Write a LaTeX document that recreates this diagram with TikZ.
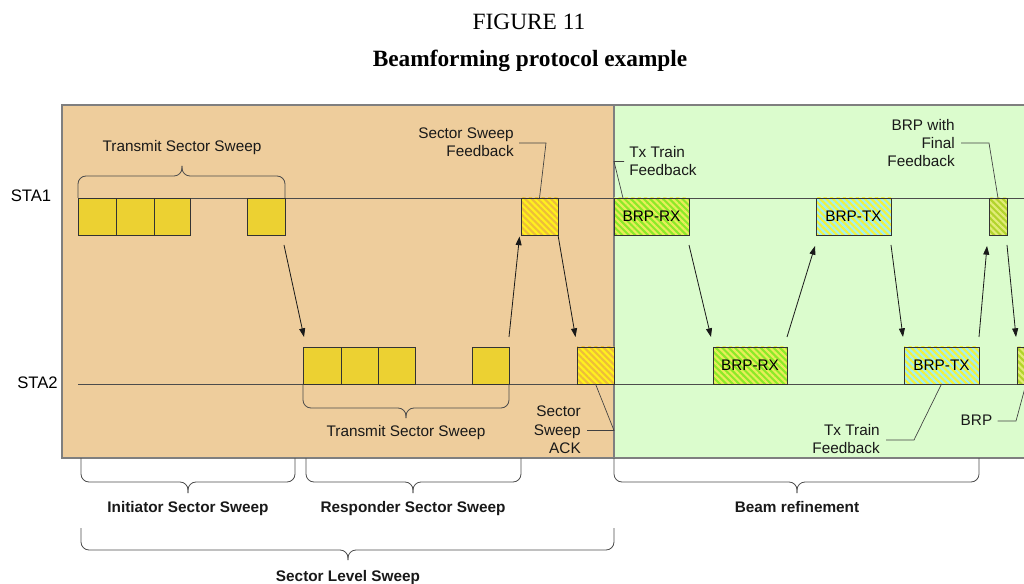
\documentclass[tikz,border=0pt]{standalone}
\usepackage{fontspec}
\setmainfont{Liberation Sans}
\newfontfamily\captionserif{Liberation Serif}
\usetikzlibrary{arrows.meta,patterns.meta,calc}

\definecolor{sweepzone}{HTML}{EECD9C}
\definecolor{refinezone}{HTML}{DBFCCD}
\definecolor{framegray}{HTML}{7F7F7F}
\definecolor{sweepyellow}{HTML}{ECD132}
\definecolor{fbbase}{HTML}{FFF01E}
\definecolor{fbstripe}{HTML}{EDBE3A}
\definecolor{rxbase}{HTML}{8CEA28}
\definecolor{rxstripe}{HTML}{E8EE5A}
\definecolor{txbase}{HTML}{A2F0F0}
\definecolor{txstripe}{HTML}{F4F23A}
\definecolor{finbase}{HTML}{B2D42C}
\definecolor{finstripe}{HTML}{E2EC78}

% a curly brace with rounded corners: x-left, x-right, x-tip, y-ends, y-bar, y-tip
\newcommand\grpbrace[6]{%
  \draw[bracestyle] (#1,#4) -- (#1,#5) -- (#3,#5) -- (#3,#6);
  \draw[bracestyle] (#2,#4) -- (#2,#5) -- (#3,#5) -- (#3,#6);
}

\begin{document}
\begin{tikzpicture}[x=0.75pt, y=-0.75pt,
  txt/.style={font=\fontsize{11.5}{13.8}\selectfont, inner sep=0pt, text=black!90},
  grptxt/.style={font=\fontsize{11.5}{13.8}\selectfont\bfseries, inner sep=0pt, text=black!90, anchor=base},
  slot/.style={draw=black!80, line width=0.6pt, inner sep=0pt, outer sep=0pt,
    minimum height=27.75pt, font=\fontsize{11.5}{13.8}\selectfont},
  wd/.style={minimum width=#1*0.75pt},
  sweepbox/.style={slot, fill=sweepyellow},
  hatchbox/.style 2 args={slot, preaction={fill=#1},
    preaction={pattern={Lines[angle=-45,distance=3.4pt,line width=1.6pt]}, pattern color=#2}},
  conn/.style={draw=black!90, line width=0.6pt, -{Triangle[length=6.5pt,width=4.5pt]}},
  leader/.style={draw=black!75, line width=0.5pt},
  staline/.style={draw=black!70, line width=0.6pt},
  bracestyle/.style={draw=black!70, line width=0.6pt, rounded corners=6pt},
]
\path[use as bounding box, clip] (0,0) rectangle (1024,584);

% caption
\node[font=\captionserif\fontsize{17.5}{20}\selectfont] (fig) at (529,22) {FIGURE 11};
\node[font=\captionserif\fontsize{17.5}{20}\selectfont\bfseries] (ttl) at (530,61) {Beamforming protocol example};

% phase backgrounds
\path[fill=sweepzone] (62,105) rectangle (614,458);
\path[fill=refinezone] (614,105) rectangle (1030,458);
\draw[framegray, line width=0.9pt] (1030,105) -- (62,105) -- (62,458) -- (1030,458);
\draw[framegray, line width=0.9pt] (614,105) -- (614,458);

% station time lines
\node[font=\fontsize{12.5}{15}\selectfont, inner sep=0pt] (sta1) at (31,196) {STA1};
\node[font=\fontsize{12.5}{15}\selectfont, inner sep=0pt] (sta2) at (37.5,383) {STA2};
\coordinate (l1a) at (78,198);  \coordinate (l1b) at (1030,198);
\coordinate (l2a) at (78,384);  \coordinate (l2b) at (1030,384);
\draw[staline] (l1a) -- (l1b);
\draw[staline] (l2a) -- (l2b);

% STA1 frames
\node[sweepbox, wd=38] (a1) at (97,216.5) {};
\node[sweepbox, wd=38] (a2) at (135,216.5) {};
\node[sweepbox, wd=36] (a3) at (172,216.5) {};
\node[sweepbox, wd=38] (a4) at (266,216.5) {};
\node[hatchbox={fbbase}{fbstripe}, wd=37] (fb) at (539.5,216.5) {};
\node[hatchbox={rxbase}{rxstripe}, wd=75] (rx1) at (651.5,216.5) {BRP-RX};
\node[hatchbox={txbase}{txstripe}, wd=75] (tx1) at (853.5,216.5) {BRP-TX};
\node[hatchbox={finbase}{finstripe}, wd=18] (fin) at (998,216.5) {};

% STA2 frames
\node[sweepbox, wd=38] (b1) at (322,365.5) {};
\node[sweepbox, wd=37] (b2) at (359.5,365.5) {};
\node[sweepbox, wd=37] (b3) at (396.5,365.5) {};
\node[sweepbox, wd=37] (b4) at (490.5,365.5) {};
\node[hatchbox={fbbase}{fbstripe}, wd=37] (ack) at (595.5,365.5) {};
\node[hatchbox={rxbase}{rxstripe}, wd=74] (rx2) at (750,365.5) {BRP-RX};
\node[hatchbox={txbase}{txstripe}, wd=75] (tx2) at (941.5,365.5) {BRP-TX};
\node[hatchbox={finbase}{finstripe}, wd=18] (brp) at (1026,365.5) {};

% frame exchanges
\draw[conn] ($(a4.south east)+(-1,10)$) -- ($(b1.north west)+(1,-10)$);
\draw[conn] ($(b4.north east)+(0,-10)$) -- ($(fb.south west)+(-1.5,1.5)$);
\draw[conn] ($(fb.south east)+(0,0)$) -- ($(ack.north west)+(-1.5,-10)$);
\draw[conn] ($(rx1.south east)+(0,10)$) -- ($(rx2.north west)+(-2,-10)$);
\draw[conn] ($(rx2.north east)+(0,-10)$) -- ($(tx1.south west)+(-1,11)$);
\draw[conn] ($(tx1.south east)+(0,10)$) -- ($(tx2.north west)+(-1,-10)$);
\draw[conn] ($(tx2.north east)+(0,-10)$) -- ($(fin.south west)+(-2,11)$);
\draw[conn] ($(fin.south east)+(0,10)$) -- ($(brp.north west)+(-1,-10)$);

% frame braces
\grpbrace{78}{285}{182}{198}{176}{166}
\node[txt] (tss1) at (182,148) {Transmit Sector Sweep};
\grpbrace{303}{509}{406}{384}{408}{418}
\node[txt] (tss2) at (406,433) {Transmit Sector Sweep};

% callouts
\node[txt, align=right, anchor=east] (sswf) at (514,142) {Sector Sweep\\Feedback};
\coordinate (k1) at (546,143);
\draw[leader] ($(sswf.east)+(5,1)$) -- (k1) -- (fb.north);

\node[txt, align=right, anchor=east] (ackl) at (581,430) {Sector\\Sweep\\ACK};
\coordinate (k2) at (614,430.5);
\draw[leader] ($(ackl.east)+(6,0.5)$) -- (k2) -- (ack.south);

\node[txt, align=left, anchor=west] (ttf1) at (629,161) {Tx Train\\Feedback};
\coordinate (k3) at (614,161.5);
\draw[leader] ($(ttf1.west)+(-5,0.5)$) -- (k3) -- ($(rx1.north west)+(9,0)$);

\node[txt, align=right, anchor=east] (finl) at (955,143) {BRP with\\Final\\Feedback};
\coordinate (k4) at (989,143);
\draw[leader] ($(finl.east)+(6,0)$) -- (k4) -- (fin.north);

\node[txt, align=right, anchor=east] (ttf2) at (880,439) {Tx Train\\Feedback};
\coordinate (k5) at (914,440);
\draw[leader] ($(ttf2.east)+(6,1)$) -- (k5) -- (tx2.south);

\node[txt, anchor=east] (brpl) at (992.5,420) {BRP};
\coordinate (k6) at (1016,421);
\draw[leader] ($(brpl.east)+(5,1)$) -- (k6) -- (brp.south);

% phase braces
\grpbrace{81}{295}{188}{458}{482}{493}
\node[grptxt] (iss) at (188,512) {Initiator Sector Sweep};
\grpbrace{306}{521}{413}{458}{482}{493}
\node[grptxt] (rss) at (413,512) {Responder Sector Sweep};
\grpbrace{614}{979}{797}{458}{482}{493}
\node[grptxt] (bref) at (797,512) {Beam refinement};
\grpbrace{81}{614}{348}{528}{550}{560}
\node[grptxt] (sls) at (348,581) {Sector Level Sweep};
\end{tikzpicture}
\end{document}
